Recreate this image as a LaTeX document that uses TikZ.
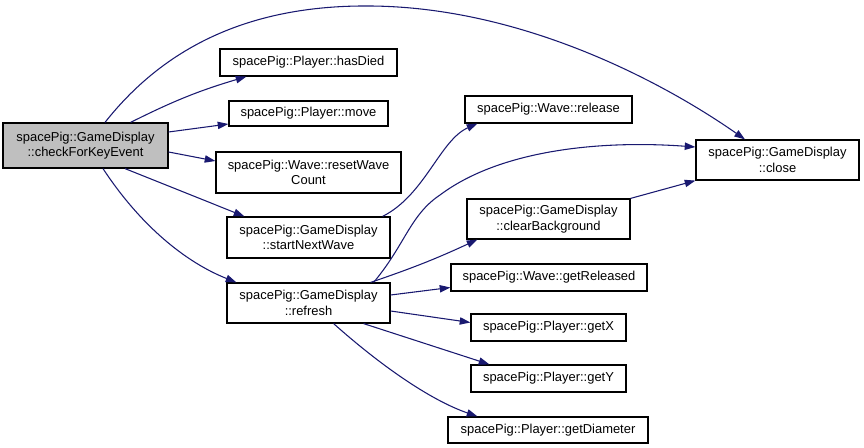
\documentclass[tikz,border=0pt]{standalone}
\usepackage{fontspec}
\setmainfont{Liberation Sans}
\usepackage{xcolor}
\usepackage{tikz}
\usetikzlibrary{positioning, calc, arrows.meta, shapes}

\definecolor{edgeblue}{HTML}{191970}
\definecolor{rootgray}{HTML}{BFBFBF}

\tikzset{
  fn/.style={draw=black, line width=0.9pt, fill=white, align=center, inner sep=0pt,
    font=\fontsize{9.7}{11.6}\selectfont},
  call/.style={edgeblue, line width=0.8pt, -{Triangle[length=8pt,width=5.5pt]}}
}

\begin{document}
\begin{tikzpicture}[x=0.75pt, y=-0.75pt]
        \useasboundingbox (0,0) rectangle (864,448);

        % Caller
        \node[fn, fill=rootgray, minimum width=123.75pt, minimum height=33.75pt] (root) at (85.5,145.5) {spacePig::GameDisplay\\::checkForKeyEvent};

        % Direct callees
        \node[fn, minimum width=132.75pt, minimum height=20.25pt] (hasDied) at (308.5,62.5) {spacePig::Player::hasDied};
        \node[fn, minimum width=119.25pt, minimum height=18.75pt] (move) at (308.5,113.5) {spacePig::Player::move};
        \node[fn, minimum width=138.75pt, minimum height=30.75pt] (resetWave) at (308.5,172.5) {spacePig::Wave::resetWave\\Count};
        \node[fn, minimum width=122.25pt, minimum height=30.75pt] (startNext) at (308.5,237.5) {spacePig::GameDisplay\\::startNextWave};
        \node[fn, minimum width=122.25pt, minimum height=30pt] (refresh) at (308.5,303) {spacePig::GameDisplay\\::refresh};

        % Second level
        \node[fn, minimum width=125.25pt, minimum height=20.25pt] (release) at (548.5,109.5) {spacePig::Wave::release};
        \node[fn, minimum width=122.25pt, minimum height=30pt] (clearBg) at (548.5,219) {spacePig::GameDisplay\\::clearBackground};
        \node[fn, minimum width=147pt, minimum height=20.25pt] (getReleased) at (549,277.5) {spacePig::Wave::getReleased};
        \node[fn, minimum width=116.25pt, minimum height=20.25pt] (getX) at (548.5,327.5) {spacePig::Player::getX};
        \node[fn, minimum width=116.25pt, minimum height=20.25pt] (getY) at (548.5,378.5) {spacePig::Player::getY};
        \node[fn, minimum width=150pt, minimum height=19.5pt] (getDiameter) at (548,430) {spacePig::Player::getDiameter};
        \node[fn, minimum width=122.25pt, minimum height=30pt] (close) at (777.5,160) {spacePig::GameDisplay\\::close};

        % Calls from checkForKeyEvent
        \draw[call] ($(root.north)+(19.5,0)$) .. controls (170,40) and (260,5) .. (370,6)
              .. controls (520,7) and (660,80) .. ($(close.north)+(-32.5,0)$);
        \draw[call] ($(root.north east)+(-38,0)$) to[bend left=5] ($(hasDied.south west)+(27,0)$);
        \draw[call] ($(root.east)+(0,-13.5)$) -- ($(move.west)+(0,10.5)$);
        \draw[call] ($(root.east)+(0,6.5)$) -- ($(resetWave.west)+(0,-11.5)$);
        \draw[call] ($(root.south)+(39.5,0)$) -- ($(startNext.north west)+(18,0)$);
        \draw[call] ($(root.south)+(17.5,0)$) .. controls (140,225) and (185,262) .. ($(refresh.north west)+(10,0)$);

        % Calls from startNextWave and refresh
        \draw[call] ($(startNext.north east)+(-8,0)$) .. controls (425,195) and (440,140) .. ($(release.south west)+(13,0)$);
        \draw[call] ($(refresh.north east)+(-17,0)$) .. controls (405,245) and (410,215) .. (440,195)
              .. controls (500,150) and (600,140) .. ($(close.west)+(0,-13)$);
        \draw[call] ($(refresh.north east)+(-20,0)$) to[bend right=3] ($(clearBg.south west)+(11,0)$);
        \draw[call] (clearBg.north east) -- (close.south west);
        \draw[call] ($(refresh.east)+(0,-8)$) -- ($(getReleased.west)+(0,10)$);
        \draw[call] ($(refresh.east)+(0,8)$) -- ($(getX.west)+(0,-5)$);
        \draw[call] ($(refresh.south east)+(-27,0)$) -- ($(getY.north west)+(19,0)$);
        \draw[call] ($(refresh.south east)+(-57,0)$) .. controls (380,365) and (430,400) .. ($(getDiameter.north west)+(30,0)$);
\end{tikzpicture}
\end{document}
